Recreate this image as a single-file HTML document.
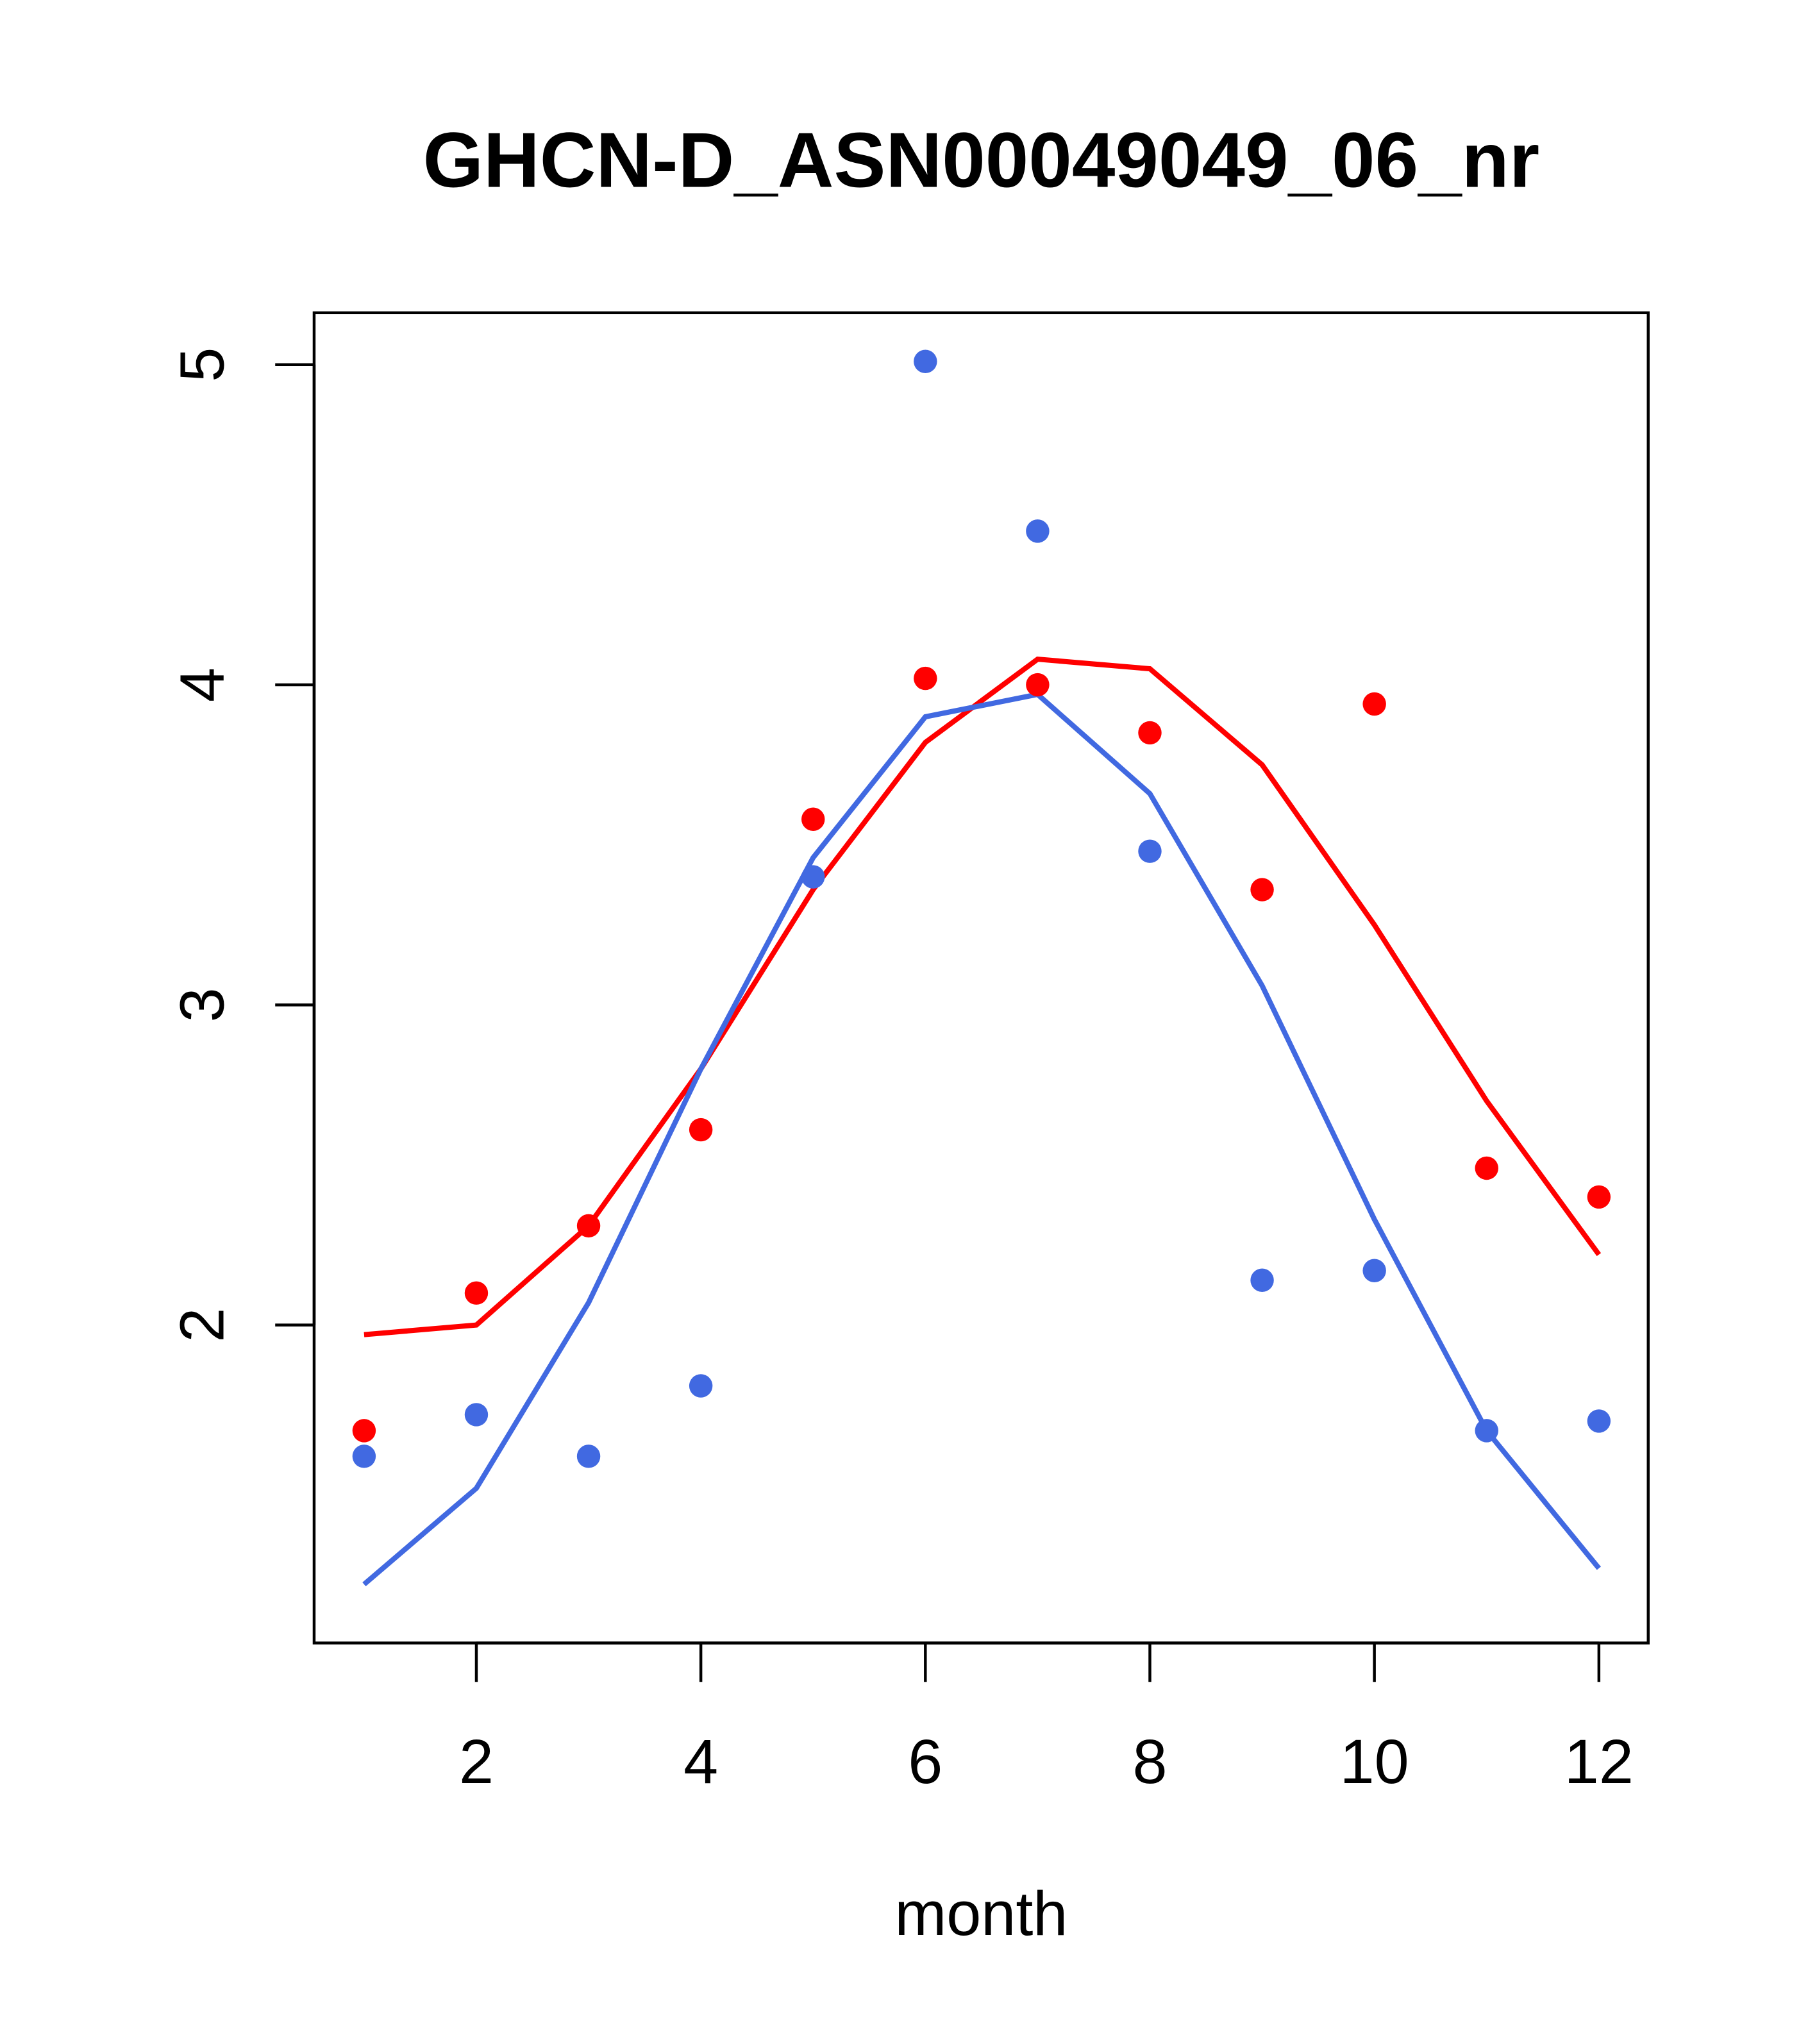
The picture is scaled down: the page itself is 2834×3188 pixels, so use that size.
<!DOCTYPE html>
<html><head><meta charset="utf-8"><style>
html,body{margin:0;padding:0;background:#fff;}
svg{display:block;}
text{font-family:"Liberation Sans",Arial,sans-serif;}
</style></head><body>
<svg id="chart" width="2834" height="3188" viewBox="0 0 1400 1575" xmlns="http://www.w3.org/2000/svg">
<text x="756" y="144" font-size="60" font-weight="bold" text-anchor="middle">GHCN-D_ASN00049049_06_nr</text>
<rect x="242" y="241" width="1028" height="1025" fill="none" stroke="#000" stroke-width="2.2"/>
<g id="xaxis"></g>
<g id="yaxis"></g>
<g id="series"></g>
<text x="756" y="1491" font-size="48" text-anchor="middle">month</text>
</svg>
<script>
const months = [1,2,3,4,5,6,7,8,9,10,11,12];
const redPoints = [1.67,2.10,2.31,2.61,3.58,4.02,4.00,3.85,3.36,3.94,2.49,2.40];
const bluePoints = [1.59,1.72,1.59,1.81,3.40,5.01,4.48,3.48,2.14,2.17,1.67,1.70];
const redLine = [1.97,2.00,2.31,2.80,3.36,3.82,4.08,4.05,3.75,3.25,2.70,2.22];
const blueLine = [1.19,1.49,2.07,2.80,3.46,3.90,3.97,3.66,3.06,2.33,1.67,1.24];
const xTicks = [2,4,6,8,10,12];
const yTicks = [2,3,4,5];

const NS = "http://www.w3.org/2000/svg";
function X(m){ return 367 + (m-2)*86.5; }
function Y(v){ return 1021 - (v-2)*246.67; }
function mk(tag, attrs, parent){
  const e = document.createElementNS(NS, tag);
  for (const k in attrs) e.setAttribute(k, attrs[k]);
  parent.appendChild(e);
  return e;
}
const xa = document.getElementById('xaxis');
const ya = document.getElementById('yaxis');
const sg = document.getElementById('series');

mk('line',{x1:X(xTicks[0]),x2:X(xTicks[xTicks.length-1]),y1:1266,y2:1266,stroke:'#000','stroke-width':2.2},xa);
xTicks.forEach(t=>{
  const l = mk('line',{x1:X(t),x2:X(t),y1:1266,y2:1296,stroke:'#000','stroke-width':2.2},xa);
  
  
  const tx = mk('text',{x:X(t),y:1374,'font-size':48,'text-anchor':'middle'},xa);
  tx.textContent = t;
  
  
});
mk('line',{x1:242,x2:242,y1:Y(yTicks[0]),y2:Y(yTicks[yTicks.length-1]),stroke:'#000','stroke-width':2.2},ya);
yTicks.forEach(t=>{
  const l = mk('line',{x1:212,x2:242,y1:Y(t),y2:Y(t),stroke:'#000','stroke-width':2.2},ya);
  
  
  const tx = mk('text',{x:0,y:0,'font-size':48,'text-anchor':'middle',transform:`translate(172,${Y(t)}) rotate(-90)`},ya);
  tx.textContent = t;
  
  
});

function line(vals,color,name){
  const p = mk('polyline',{points:months.map((m,i)=>X(m)+','+Y(vals[i])).join(' '),fill:'none',stroke:color,'stroke-width':4},sg);
  
  
}
function pts(vals,color,name){
  months.forEach((m,i)=>{
    const c = mk('circle',{cx:X(m),cy:Y(vals[i]),r:9,fill:color},sg);
    
    
  });
}
line(redLine,'#ff0000','red-fit-line');
line(blueLine,'#4169e1','blue-fit-line');
pts(redPoints,'#ff0000','red-point');
pts(bluePoints,'#4169e1','blue-point');
</script>
</body></html>
